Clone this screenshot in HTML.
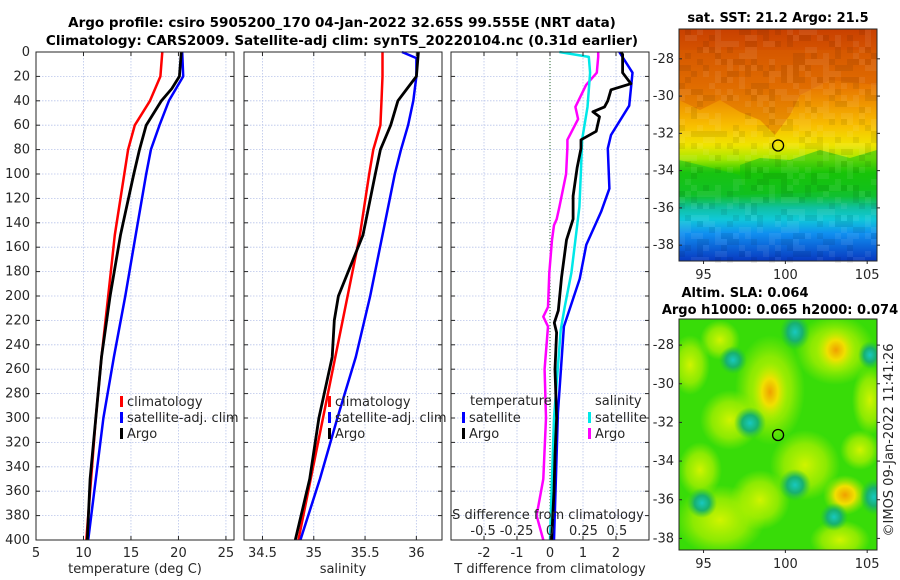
<!DOCTYPE html>
<html><head><meta charset="utf-8"><style>
body{margin:0;background:#fff;}
svg{display:block;font-family:"DejaVu Sans","Liberation Sans",sans-serif;}
</style></head><body>
<svg id="c" width="900" height="580" viewBox="0 0 900 580">
<defs>
<linearGradient id="sst" x1="0" y1="0" x2="0" y2="1">
<stop offset="0" stop-color="#c84000"/><stop offset="0.12" stop-color="#d85800"/>
<stop offset="0.25" stop-color="#e87800"/><stop offset="0.33" stop-color="#f09800"/>
<stop offset="0.42" stop-color="#f8c000"/><stop offset="0.5" stop-color="#f0e400"/>
<stop offset="0.56" stop-color="#a8e800"/><stop offset="0.62" stop-color="#20c800"/>
<stop offset="0.72" stop-color="#10c030"/><stop offset="0.77" stop-color="#10c0a0"/>
<stop offset="0.82" stop-color="#10c8d8"/><stop offset="0.88" stop-color="#1090f0"/>
<stop offset="1" stop-color="#0838c0"/>
</linearGradient>
<radialGradient id="gy"><stop offset="0" stop-color="#f0a000"/><stop offset="0.45" stop-color="#f0e000"/><stop offset="1" stop-color="#b0f000" stop-opacity="0"/></radialGradient>
<radialGradient id="gl"><stop offset="0" stop-color="#d0f400"/><stop offset="0.6" stop-color="#b0f000" stop-opacity="0.7"/><stop offset="1" stop-color="#a0f000" stop-opacity="0"/></radialGradient>
<radialGradient id="gt"><stop offset="0" stop-color="#18c8c0"/><stop offset="0.5" stop-color="#18b070"/><stop offset="1" stop-color="#20c040" stop-opacity="0"/></radialGradient>
<clipPath id="m2c"><rect x="679" y="319" width="198" height="231"/></clipPath>
</defs>
<g id="root"></g>
</svg>
<script>
// ---- data ----
const depths = [0,20,40,60,80,100,150,200,250,300,350,400];
const tClim = [18.3,18.1,17.0,15.4,14.7,14.3,13.3,12.6,11.9,11.3,10.8,10.3];
const tSat = [20.4,20.5,19.0,18.0,17.1,16.6,15.5,14.4,13.2,12.1,11.3,10.5];
const tArgoDepth = [0,20,30,40,60,80,100,150,200,250,300,350,400];
const tArgo = [20.3,20.1,19.3,18.2,16.6,15.9,15.3,13.9,12.8,11.9,11.3,10.7,10.4];
const sClim = [35.67,35.67,35.66,35.65,35.58,35.54,35.45,35.33,35.21,35.09,34.97,34.85];
const sSatDepth = [0,5,20,40,60,80,100,150,200,250,300,350,400];
const sSat = [35.86,36.0,36.0,35.97,35.92,35.85,35.79,35.67,35.55,35.41,35.23,35.06,34.87];
const sArgoDepth = [0,10,20,30,40,60,80,100,150,200,220,250,300,350,400];
const sArgo = [36.02,36.01,36.0,35.91,35.82,35.75,35.65,35.6,35.48,35.24,35.2,35.18,35.05,34.96,34.82];
const dTsatD = [0,17,44,68,79,112,131,158,186,225,296,400];
const dTsat = [2.1,2.5,2.4,1.85,1.75,1.8,1.55,1.1,0.9,0.42,0.24,0.12];
const dTargoD = [0,2,17,26,31,40,45,49,53,65,72,79,95,118,137,154,185,212,222,230,260,300,330,360,400];
const dTargo = [2.15,2.2,2.2,2.45,1.85,1.75,1.65,1.3,1.5,1.4,0.94,0.94,0.82,0.7,0.7,0.5,0.35,0.25,0.13,0.2,0.15,0.2,0.15,0.12,0.05];
const dSsatD = [0,4,17,45,72,100,127,154,181,209,228,300,400];
const dSsat = [0.07,0.29,0.3,0.28,0.24,0.23,0.22,0.19,0.16,0.11,0.08,0.03,0.0];
const dSargoD = [0,4,17,27,45,55,72,78,100,127,137,142,154,181,209,217,225,260,300,350,380,400];
const dSargo = [0.36,0.36,0.35,0.27,0.19,0.21,0.13,0.13,0.12,0.07,0.05,0.03,0.015,-0.005,-0.015,-0.05,-0.015,-0.04,-0.03,-0.05,-0.1,-0.05];
const depthTicks = [0,20,40,60,80,100,120,140,160,180,200,220,240,260,280,300,320,340,360,380,400];
const tTicks = [5,10,15,20,25];
const sTicks = [34.5,35,35.5,36];
const dTTicks = [-2,-1,0,1,2];
const dSTicks = [-0.5,-0.25,0,0.25,0.5];
const dSTickLabels = ["-0.5","-0.25","0","0.25","0.5"];
const mapLatTicks = [-28,-30,-32,-34,-36,-38];
const mapLonTicks = [95,100,105];

// ---- helpers ----
const NS="http://www.w3.org/2000/svg";
const root=document.getElementById('root');
function mk(tag,attrs,parent){const e=document.createElementNS(NS,tag);for(const k in attrs)e.setAttribute(k,attrs[k]);(parent||root).appendChild(e);return e;}
function txt(x,y,s,attrs){const e=mk('text',Object.assign({x:x,y:y,'font-size':13,fill:'#262626'},attrs||{}));e.textContent=s;return e;}
const Y0=52,Y1=540;
const yD=d=>Y0+(d/400)*(Y1-Y0);
function lin(d0,d1,p0,p1){return v=>p0+(v-d0)/(d1-d0)*(p1-p0);}
const xT=lin(5,25.85,36,234);
const xS=lin(34.32,36.25,244,442);
const xDT=lin(-3,3,451,649);
const xDS=lin(-0.74,0.74,451,649);

function panel(x0,x1,name){
  const g=mk('g',{});
  
  
  mk('rect',{x:x0,y:Y0,width:x1-x0,height:Y1-Y0,fill:'#fff'},g);
  depthTicks.forEach(d=>{
    const l=mk('line',{x1:x0,x2:x1,y1:yD(d),y2:yD(d),stroke:'#b8c4ea','stroke-width':0.8,'stroke-dasharray':'1.5,1.5'},g);
    
    
  });
  return g;
}
function vgrid(g,ticks,xf){ticks.forEach(t=>{mk('line',{x1:xf(t),x2:xf(t),y1:Y0,y2:Y1,stroke:'#b8c4ea','stroke-width':0.8,'stroke-dasharray':'1.5,1.5'},g);});}
function frame(x0,x1,ticks,xf,labels,name){
  const g=mk('g',{});
  
  
  mk('rect',{x:x0,y:Y0,width:x1-x0,height:Y1-Y0,fill:'none',stroke:'#262626','stroke-width':1},g);
  ticks.forEach((t,i)=>{
    mk('line',{x1:xf(t),x2:xf(t),y1:Y1,y2:Y1-4,stroke:'#262626'},g);
    mk('line',{x1:xf(t),x2:xf(t),y1:Y0,y2:Y0+4,stroke:'#262626'},g);
    const e=txt(xf(t),557,labels?labels[i]:String(t),{'text-anchor':'middle'});g.appendChild(e);
  });
  depthTicks.forEach(d=>{
    mk('line',{x1:x0,x2:x0+4,y1:yD(d),y2:yD(d),stroke:'#262626'},g);
    mk('line',{x1:x1,x2:x1-4,y1:yD(d),y2:yD(d),stroke:'#262626'},g);
  });
}
function series(dArr,vArr,xf,color,w,name){
  const pts=dArr.map((d,i)=>xf(vArr[i]).toFixed(1)+','+yD(d).toFixed(1)).join(' ');
  const p=mk('polyline',{points:pts,fill:'none',stroke:color,'stroke-width':w,'stroke-linejoin':'round'});
  
  
  return p;
}
function legItem(x,y,color,label,name){
  const g=mk('g',{});
  
  
  mk('rect',{x:x,y:y-10,width:3,height:11,fill:color},g);
  g.appendChild(txt(x+7,y,label));
}

// titles
txt(342,27,'Argo profile: csiro 5905200_170 04-Jan-2022 32.65S 99.555E (NRT data)',{'text-anchor':'middle','font-weight':'bold','font-size':13.5,fill:'#000'});
txt(342,45,'Climatology: CARS2009. Satellite-adj clim: synTS_20220104.nc (0.31d earlier)',{'text-anchor':'middle','font-weight':'bold','font-size':13.5,fill:'#000'});

// panel 1 temperature
let g1=panel(36,234,'temperature-panel');vgrid(g1,tTicks,xT);
series(depths,tClim,xT,'#ff0000',2.5,'temp-climatology-line');
series(depths,tSat,xT,'#0000ff',2.5,'temp-satellite-line');
series(tArgoDepth,tArgo,xT,'#000',2.8,'temp-argo-line');
frame(36,234,tTicks,xT,null,'temperature-axes');
depthTicks.forEach(d=>{txt(30,yD(d)+4,String(d),{'text-anchor':'end'});});
txt(135,573,'temperature (deg C)',{'text-anchor':'middle'});
legItem(120,406,'#ff0000','climatology','legend-climatology');
legItem(120,422,'#0000ff','satellite-adj. clim','legend-satellite-adj');
legItem(120,438,'#000','Argo','legend-argo');

// panel 2 salinity
let g2=panel(244,442,'salinity-panel');vgrid(g2,sTicks,xS);
series(depths,sClim,xS,'#ff0000',2.5,'sal-climatology-line');
series(sSatDepth,sSat,xS,'#0000ff',2.5,'sal-satellite-line');
series(sArgoDepth,sArgo,xS,'#000',2.8,'sal-argo-line');
frame(244,442,sTicks,xS,null,'salinity-axes');
txt(343,573,'salinity',{'text-anchor':'middle'});
legItem(328,406,'#ff0000','climatology','legend-climatology-2');
legItem(328,422,'#0000ff','satellite-adj. clim','legend-satellite-adj-2');
legItem(328,438,'#000','Argo','legend-argo-2');

// panel 3 differences
let g3=panel(451,649,'difference-panel');vgrid(g3,dTTicks,xDT);
mk('line',{x1:xDT(0),x2:xDT(0),y1:Y0,y2:Y1,stroke:'#2a6a2a','stroke-width':1,'stroke-dasharray':'1,2'},g3);
series(dSargoD,dSargo,xDS,'#ff00ff',2.5,'sal-diff-argo-line');
series(dSsatD,dSsat,xDS,'#00e8e8',2.5,'sal-diff-satellite-line');
series(dTsatD,dTsat,xDT,'#0000ff',2.5,'temp-diff-satellite-line');
series(dTargoD,dTargo,xDT,'#000',2.8,'temp-diff-argo-line');
frame(451,649,dTTicks,xDT,null,'difference-axes');
txt(470,405,'temperature');
txt(595,405,'salinity');
legItem(462,422,'#0000ff','satellite','legend-temp-satellite');
legItem(462,438,'#000','Argo','legend-temp-argo');
legItem(588,422,'#00e8e8','satellite','legend-sal-satellite');
legItem(588,438,'#ff00ff','Argo','legend-sal-argo');
txt(548,519,'S difference from climatology',{'text-anchor':'middle'});
dSTicks.forEach((t,i)=>{txt(xDS(t),535,dSTickLabels[i],{'text-anchor':'middle'});});
txt(550,573,'T difference from climatology',{'text-anchor':'middle'});

// maps
function mapAxes(y0,y1,latTop,latBot,name){
  const ly=lin(latTop,latBot,y0,y1), lx=lin(93.5,105.6,679,877);
  const g=mk('g',{});
  
  
  mk('rect',{x:679,y:y0,width:198,height:y1-y0,fill:'none',stroke:'#262626'},g);
  mapLatTicks.forEach(t=>{
    mk('line',{x1:877,x2:880,y1:ly(t),y2:ly(t),stroke:'#262626'},g);
    mk('line',{x1:679,x2:682,y1:ly(t),y2:ly(t),stroke:'#262626'},g);
    g.appendChild(txt(674,ly(t)+4,String(t),{'text-anchor':'end'}));
  });
  mapLonTicks.forEach(t=>{mk('line',{x1:lx(t),x2:lx(t),y1:y1,y2:y1+3,stroke:'#262626'},g);g.appendChild(txt(lx(t),y1+18,String(t),{'text-anchor':'middle'}));});
  const c=mk('circle',{cx:lx(99.555),cy:ly(-32.65),r:5.5,fill:'none',stroke:'#000','stroke-width':1.3});
  
  
}
const m1=mk('g',{});


mk('rect',{x:679,y:29,width:198,height:232,fill:'url(#sst)'},m1);
mk('path',{d:'M679 100 L700 110 L720 100 L740 112 L760 120 L775 135 L790 115 L800 95 L830 80 L877 85 L877 50 L679 50Z',fill:'#d86000',opacity:0.45},m1);
mk('path',{d:'M740 165 L760 158 L790 160 L820 150 L850 158 L877 150 L877 190 L740 195Z',fill:'#10c010',opacity:0.5},m1);
mk('path',{d:'M679 160 L700 165 L740 175 L745 195 L679 195Z',fill:'#10c020',opacity:0.5},m1);
// pixel texture
for(let i=0;i<33;i++){for(let j=0;j<39;j++){
  const v=Math.sin(i*12.9898+j*78.233)*43758.5453; const f=v-Math.floor(v);
  if(f>0.55){mk('rect',{x:679+i*6,y:29+j*6,width:6,height:6,fill:f>0.8?'#000':'#fff',opacity:0.07},m1);}
}}
txt(778,22,'sat. SST: 21.2 Argo: 21.5',{'text-anchor':'middle','font-weight':'bold',fill:'#000'});
mapAxes(29,261,-26.4,-38.85,'sst-map-axes');

const m2=mk('g',{'clip-path':'url(#m2c)'});


mk('rect',{x:679,y:319,width:198,height:231,fill:'#38dc08'},m2);
[[770,390,35,55,'gl'],[770,392,18,30,'gy'],[835,350,40,35,'gl'],[836,350,20,22,'gy'],[690,365,20,30,'gl'],[720,520,45,35,'gl'],[805,465,35,35,'gl'],[845,495,22,20,'gy'],[700,470,22,28,'gl'],[870,400,18,35,'gl'],[730,420,30,30,'gl'],[760,500,30,30,'gl'],[860,450,20,20,'gl'],[720,340,20,20,'gl'],[840,540,30,20,'gl'],
 [795,332,15,18,'gt'],[750,423,16,16,'gt'],[733,360,14,14,'gt'],[795,485,16,16,'gt'],[702,503,15,15,'gt'],[834,517,14,14,'gt'],[874,497,14,18,'gt'],[870,355,12,14,'gt']].forEach(b=>{
  mk('ellipse',{cx:b[0],cy:b[1],rx:b[2],ry:b[3],fill:'url(#'+b[4]+')'},m2);
});
txt(745,297,'Altim. SLA: 0.064',{'text-anchor':'middle','font-weight':'bold',fill:'#000'});
txt(780,314,'Argo h1000: 0.065 h2000: 0.074',{'text-anchor':'middle','font-weight':'bold',fill:'#000'});
mapAxes(319,550,-26.65,-38.6,'sla-map-axes');
txt(0,0,'©IMOS 09-Jan-2022 11:41:26',{'text-anchor':'middle',transform:'translate(893,440) rotate(-90)'});
</script>
</body></html>
